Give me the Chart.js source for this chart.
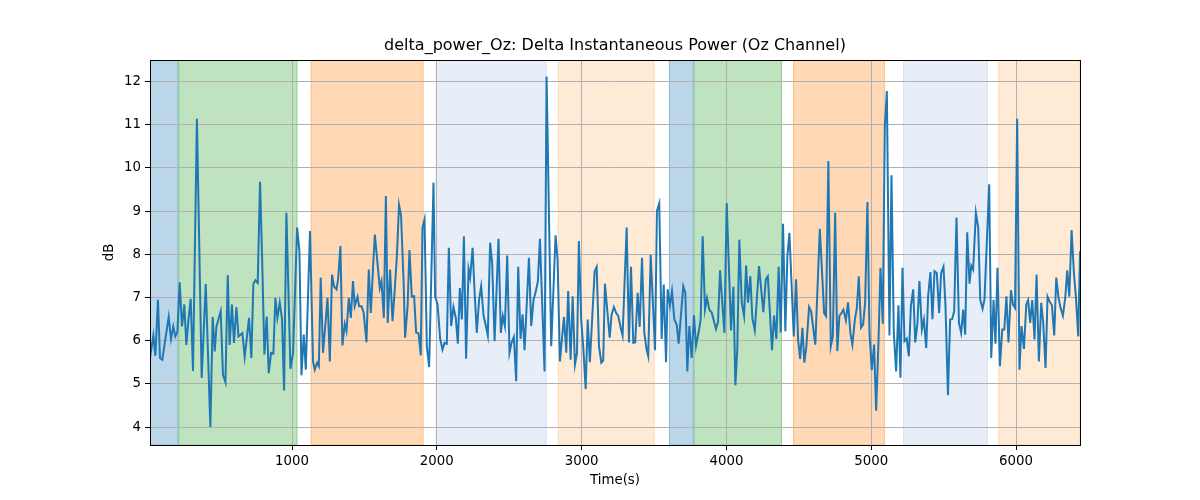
<!DOCTYPE html>
<html>
<head>
<meta charset="utf-8">
<script src="https://cdn.jsdelivr.net/npm/chart.js@4.4.1/dist/chart.umd.min.js"></script>
<style>
html,body{margin:0;padding:0;background:#fff;}
#wrap{width:1200px;height:500px;}
</style>
</head>
<body>
<div id="wrap"><canvas id="c" width="1200" height="500"></canvas></div>
<script>
const times = [19,42,56,74,88,104,148,164,180,194,208,224,240,256,270,285,300,316,343,376,404,436,452,466,478,507,523,540,556,569,585,599,616,630,657,673,703,719,733,747,763,779,793,809,825,839,855,871,885,899,915,931,945,961,
989,1007,1035,1051,1065,1081,1095,1124,1145,1157,1173,1185,1198,1214,1231,1245,1261,1276,1290,1307,1318,1334,1348,1364,1376,1392,1406,1421,1433,1452,1463,1480,1495,1514,1530,1544,1560,1572,1590,1606,1618,1634,
1648,1661,1677,1694,1708,1724,1739,1753,1770,1781,1798,1811,1827,1843,1857,1874,1889,1901,1915,1931,1947,1977,1988,2005,2023,2039,2053,2069,2083,2099,2115,2131,2145,2159,2173,2187,2202,2219,2230,2247,2261,2276,2292,2306,2323,2339,2352,2368,2382,2399,2426,2442,
2456,2470,2486,2502,2516,2532,2548,2562,2578,2592,2606,2636,2652,2668,2682,2698,2712,2744,2758,2790,2820,2834,2850,2878,2894,2907,2924,2938,2954,2968,2981,2997,3011,3028,3042,3057,3090,3104,3120,3136,3149,3161,3177,3194,3207,3223,3239,3253,
3270,3283,3311,3327,3341,3357,3370,3387,3401,3417,3433,3449,3460,3477,3507,3520,3536,3553,3567,3583,3594,3610,3624,3640,3657,3670,3702,3716,3730,3744,3760,3776,3790,3809,3822,3836,3852,3866,3882,3898,3928,3942,3956,3986,4002,4032,4048,4062,
4075,4089,4106,4122,4136,4149,4165,4179,4196,4225,4255,4272,4286,4315,4329,4345,4361,4375,4391,4407,4421,4435,4465,4481,4495,4509,4525,4538,4552,4571,4585,4614,4645,4675,4688,4704,4721,4735,4751,4766,4780,4794,4808,4825,4840,4856,4870,
4887,4901,4914,4930,4944,4958,4974,4988,5004,5020,5034,5050,5064,5080,5094,5108,5126,5140,5156,5172,5188,5202,5216,5230,5245,5260,5274,5290,5304,5319,5333,5350,5364,5380,5393,5409,5423,5437,5453,5469,5483,5499,5513,5530,5545,5559,5573,5589,5606,5621,5635,5649,5663,5679,
5691,5704,5723,5739,5753,5769,5782,5815,5829,5845,5858,5872,5889,5905,5919,5934,5948,5965,5979,5993,6008,6024,6038,6055,6071,6084,6098,6112,6128,6142,6158,6174,6188,6204,6218,6232,6248,6264,6278,6294,6308,6324,6340,6354,6368,6384,6400,6414,6430,6442];

const power = [5.6,6.12,5.65,6.95,5.6,5.56,6.55,6.04,6.33,6.1,6.2,7.35,6.33,6.84,5.9,6.5,6.97,5.3,11.14,5.14,7.31,4.0,6.55,5.75,6.33,6.68,5.21,5.04,7.52,5.9,6.84,5.95,6.78,6.1,6.18,5.62,6.53,5.6,7.32,7.4,7.34,9.68,7.96,5.68,6.56,5.25,5.72,5.7,6.99,6.53,6.88,6.5,4.85,8.96,
5.35,5.72,8.62,8.07,5.2,6.14,5.33,8.54,5.52,5.33,5.49,5.41,7.46,5.72,6.41,6.99,5.52,7.53,7.26,7.19,7.42,8.19,5.89,6.39,6.22,6.99,6.53,7.38,6.8,7.02,6.8,6.8,6.64,5.96,7.65,6.64,7.73,8.46,7.8,7.22,7.38,6.53,
9.35,6.41,7.65,6.45,7.11,7.96,9.14,8.89,7.42,6.07,6.8,8.1,7.02,7.03,6.19,6.17,5.66,8.62,8.81,5.87,5.39,9.66,7.03,6.84,6.04,5.79,5.95,5.93,8.15,6.34,6.78,6.53,5.93,7.22,6.49,8.42,5.58,7.66,7.46,8.15,7.11,6.18,6.96,7.26,6.57,6.34,6.12,8.27,7.8,5.99,8.36,6.18,
6.57,6.34,7.97,5.72,5.95,6.09,5.06,7.71,6.04,6.61,5.78,7.92,6.34,6.95,7.12,7.38,8.36,5.29,12.12,5.87,8.44,7.88,5.52,6.55,5.72,7.15,5.56,7.03,5.45,5.72,8.31,6.49,5.87,4.88,6.49,5.5,7.61,7.71,5.87,5.49,5.54,7.32,6.71,6.07,6.61,6.78,6.64,6.57,
6.3,6.12,8.62,5.96,7.71,5.95,5.96,7.11,6.32,7.92,6.18,5.79,5.64,7.99,5.78,9.0,9.18,6.04,7.3,5.5,7.19,6.81,7.15,6.5,6.37,5.93,7.26,7.11,5.29,6.34,5.6,6.59,5.88,6.22,6.49,8.42,6.72,6.99,6.71,6.66,6.27,6.43,7.63,6.18,9.19,6.24,7.25,4.97,
5.79,8.34,6.88,6.57,7.74,6.88,7.49,6.53,6.24,7.73,6.66,7.42,7.49,5.78,6.58,6.04,7.71,6.19,8.71,6.22,7.96,8.5,6.1,7.42,6.03,5.58,6.3,5.49,5.87,6.78,6.68,5.91,8.59,6.64,6.57,10.16,5.87,6.1,8.96,5.76,6.57,6.64,6.72,6.47,6.89,6.18,5.91,
6.49,6.76,7.49,6.3,6.37,6.88,9.21,6.18,5.32,5.91,4.38,5.95,7.69,6.39,10.97,11.78,6.12,9.83,6.18,5.29,6.82,5.14,7.69,5.99,6.05,5.64,6.8,7.19,5.96,6.39,7.38,6.26,6.49,5.83,7.03,7.59,6.5,7.61,7.57,6.64,7.57,7.71,6.8,4.74,6.49,6.5,6.68,8.85,6.41,6.18,6.72,6.14,8.51,7.32,
7.74,7.65,8.96,8.62,6.95,6.74,6.95,9.62,5.6,6.95,5.93,7.69,5.41,6.26,6.26,7.03,5.96,7.17,6.84,6.76,11.14,5.33,6.34,5.81,6.84,6.94,6.41,6.94,6.03,7.53,5.52,6.88,6.41,5.37,7.02,6.91,6.82,6.12,7.46,6.99,6.76,6.58,6.99,7.63,7.02,8.56,7.57,6.99,6.1,8.07];

const xTicks = [1000,2000,3000,4000,5000,6000];
const yTicks = [4,5,6,7,8,9,10,11,12];

// segment annotations (start, end, stage)
const segStart = [19,215,1129,1993,2836,3603,3774,4460,5220,5877];
const segEnd   = [215,1037,1908,2758,3504,3774,4384,5094,5806,6442];
const segStage = ['A','B','C','D','E','A','B','C','D','E'];

const stageColor = {
  A: 'rgba(31,119,180,0.3)',
  B: 'rgba(44,160,44,0.3)',
  C: 'rgba(255,127,14,0.3)',
  D: 'rgba(174,199,232,0.3)',
  E: 'rgba(255,187,120,0.3)'
};

const points = times.map((t, i) => ({x: t, y: power[i]}));
const yMin = 3.585, yMax = 12.5;

const bandPlugin = {
  id: 'bands',
  beforeDraw(chart) {
    const {ctx, chartArea: a, scales: {x}} = chart;
    ctx.save();
    ctx.fillStyle = '#fff';
    ctx.fillRect(0, 0, chart.width, chart.height);
    ctx.beginPath();
    ctx.rect(a.left, a.top, a.right - a.left, a.bottom - a.top);
    ctx.clip();
    for (let i = 0; i < segStart.length; i++) {
      const x0 = x.getPixelForValue(segStart[i]);
      const x1 = x.getPixelForValue(segEnd[i]);
      ctx.fillStyle = stageColor[segStage[i]];
      ctx.fillRect(x0, a.top, x1 - x0, a.bottom - a.top);
      ctx.strokeStyle = stageColor[segStage[i]];
      ctx.lineWidth = 1;
      ctx.strokeRect(x0 + 0.5, a.top, x1 - x0 - 1, a.bottom - a.top);
    }
    ctx.restore();
  },
  afterDraw(chart) {
    const {ctx, chartArea: a} = chart;
    ctx.save();
    ctx.strokeStyle = '#000';
    ctx.lineWidth = 1;
    ctx.strokeRect(Math.round(a.left) + 0.5, Math.round(a.top) + 0.5, Math.round(a.right - a.left), Math.round(a.bottom - a.top));
    ctx.restore();
  }
};

Chart.defaults.font.family = "'DejaVu Sans', sans-serif";
Chart.defaults.color = '#000';

new Chart(document.getElementById('c'), {
  type: 'line',
  data: {
    datasets: [{
      data: points,
      borderColor: '#1f77b4',
      borderWidth: 2,
      pointRadius: 0,
      tension: 0,
      fill: false
    }]
  },
  options: {
    responsive: false,
    animation: false,
    devicePixelRatio: 1,
    layout: {padding: {left: 0, right: 120, top: 0, bottom: 0}},
    plugins: {
      legend: {display: false},
      tooltip: {enabled: false},
      title: {
        display: true,
        fullSize: false,
        text: 'delta_power_Oz: Delta Instantaneous Power (Oz Channel)',
        font: {size: 16, weight: 'normal'},
        color: '#000',
        padding: {top: 36.4, bottom: 4.4}
      }
    },
    scales: {
      x: {
        type: 'linear',
        min: times[0],
        max: times[times.length - 1],
        afterBuildTicks: s => { s.ticks = xTicks.map(v => ({value: v})); },
        afterFit: s => { s.height = 55; },
        ticks: {font: {size: 13.33}, padding: 4, maxRotation: 0, callback: v => String(v)},
        grid: {color: '#b0b0b0', lineWidth: 1, tickColor: '#000', tickLength: 5},
        border: {display: true, color: '#000', width: 1},
        title: {display: true, text: 'Time(s)', font: {size: 13.33}, padding: {top: 0, bottom: 11}}
      },
      y: {
        type: 'linear',
        min: yMin,
        max: yMax,
        afterBuildTicks: s => { s.ticks = yTicks.map(v => ({value: v})); },
        afterFit: s => { s.width = 150; },
        ticks: {font: {size: 13.33}, padding: 4, callback: v => String(v)},
        grid: {color: '#b0b0b0', lineWidth: 1, tickColor: '#000', tickLength: 5},
        border: {display: true, color: '#000', width: 1},
        title: {display: true, text: 'dB', font: {size: 13.33}, padding: {top: 102, bottom: 0}}
      }
    }
  },
  plugins: [bandPlugin]
});
</script>
</body>
</html>
